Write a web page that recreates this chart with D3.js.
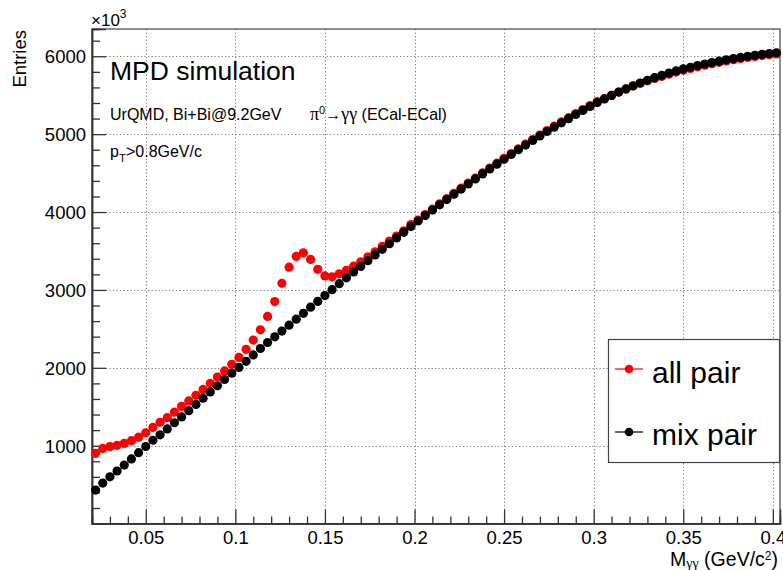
<!DOCTYPE html>
<html><head><meta charset="utf-8">
<script src="https://cdn.jsdelivr.net/npm/d3@7"></script>
<style>
body{margin:0;background:#fff}
svg{display:block}
text{font-family:"Liberation Sans",Arial,Helvetica,sans-serif;fill:#000}
</style>
</head><body>
<svg id="c" width="783" height="570"></svg>
<script>
// ---- data ----
const binLow = 0.02, binWidth = 0.004;
const allPair = [902,965,990,1005,1030,1065,1110,1165,1235,1300,1360,1430,1505,1575,1648,1722,1800,1882,1960,2045,2134,2238,2356,
  2488,2660,2850,3085,3292,3430,3476,3392,3265,3180,3168,3208,3252,3305,3362,3425,3490,3560,3628,3692,3760,3840,3897,
  3967,4037,4105,4172,4240,4307,4372,4437,4502,4565,4627,4689,4751,4812,4872,4931,4989,5046,5102,5157,5211,5264,5316,5367,5417,
  5455,5498,5540,5580,5618,5652,5685,5716,
  5741,5770,5797,5822,5844,5865,5885,5904,5922,5939,5955,5970,5984,5997,6009,6020,6030];
const mixPair = [430,520,600,675,752,830,910,990,1070,1140,1215,1295,1370,1450,1530,1610,1690,1770,1850,1930,
  2005,2083,2165,2248,2325,2398,2472,2548,2625,2700,2778,2852,2928,3003,3080,3155,3230,3302,3376,3450,
  3521,3593,3668,3740,3813,3885,3955,4025,4093,4160,4228,4295,4360,4425,4490,4553,4615,4677,4739,4800,
  4860,4919,4977,5034,5090,5145,5199,5252,5304,5355,5405,5452,5497,5540,5581,5620,5657,5692,5725,5756,
  5785,5812,5837,5859,5880,5900,5919,5937,5954,5970,5985,5999,6012,6024,6035,6045];
const xTicks = [0.05,0.1,0.15,0.2,0.25,0.3,0.35,0.4];
const xTickLabels = ["0.05","0.1","0.15","0.2","0.25","0.3","0.35","0.4"];
const yTicks = [1000,2000,3000,4000,5000,6000];
const yTickLabels = ["1000","2000","3000","4000","5000","6000"];
const seriesNames = ["all pair","mix pair"];
const seriesColors = ["#ff0000","#000000"];

// ---- layout ----
const svg = d3.select("#c");
const L = 92, R = 780, T = 29, B = 523.6;
const x = d3.scaleLinear().domain([0.02, 0.404]).range([L, R]);
const y = d3.scaleLinear().domain([0, 6350]).range([B, T]);
const centers = mixPair.map((_, i) => binLow + binWidth * (i + 0.5));

// grid
const grid = svg.append("g").attr("stroke", "#777").attr("stroke-width", 1).attr("stroke-dasharray", "1.2,2.3");
grid.selectAll("line.gx").data(xTicks).join("line")
  .attr("x1", d => Math.round(x(d)) + 0.5).attr("x2", d => Math.round(x(d)) + 0.5).attr("y1", T).attr("y2", B);
grid.selectAll("line.gy").data(yTicks).join("line")
  .attr("y1", d => Math.round(y(d)) + 0.5).attr("y2", d => Math.round(y(d)) + 0.5).attr("x1", L).attr("x2", R);

// frame
svg.append("rect").attr("x", L).attr("y", T).attr("width", R - L).attr("height", B - T)
  .attr("fill", "none").attr("stroke", "#444").attr("stroke-width", 1.2);

// axes with inward ticks
const xMinor = d3.range(0.03, 0.4005, 0.01).filter(v => !xTicks.some(t => Math.abs(t - v) < 1e-6));
const yMinor = d3.range(200, 6300, 200).filter(v => v % 1000 !== 0);
const gx = svg.append("g").attr("transform", `translate(0,${B})`)
  .call(d3.axisBottom(x).tickValues(xTicks).tickFormat((d, i) => xTickLabels[i]).tickSize(-14));
const gxm = svg.append("g").attr("transform", `translate(0,${B})`)
  .call(d3.axisBottom(x).tickValues(xMinor).tickFormat("").tickSize(-7));
const gy = svg.append("g").attr("transform", `translate(${L},0)`)
  .call(d3.axisLeft(y).tickValues(yTicks).tickFormat((d, i) => yTickLabels[i]).tickSize(-14));
const gym = svg.append("g").attr("transform", `translate(${L},0)`)
  .call(d3.axisLeft(y).tickValues(yMinor).tickFormat("").tickSize(-8));
[gx, gxm, gy, gym].forEach(g => {
  g.select(".domain").attr("stroke", "#333").attr("stroke-width", 1.5);
  g.selectAll(".tick line").attr("stroke", "#333").attr("stroke-width", 1.3);
  g.selectAll(".tick text").attr("font-size", 18.5).attr("fill", "#000")
    .attr("font-family", '"Liberation Sans",Arial,sans-serif');
});
gx.selectAll(".tick text").attr("y", 7).attr("dy", "0.71em");
gy.selectAll(".tick text").attr("x", -6).attr("dy", "0.36em");

// series
const series = [allPair, mixPair];
series.forEach((vals, s) => {
  svg.append("g").selectAll("circle").data(vals).join("circle")
    .attr("cx", (d, i) => x(centers[i])).attr("cy", d => y(d)).attr("r", 4.6)
    .attr("fill", seriesColors[s]);
});

// axis titles
svg.append("text").attr("transform", "translate(26,30) rotate(-90)").attr("text-anchor", "end")
  .attr("font-size", 18.5).text("Entries");
const ex = svg.append("text").attr("x", 91).attr("y", 26).attr("font-size", 17);
ex.append("tspan").text("\u00d710");
ex.append("tspan").attr("font-size", 12).attr("dy", -8).text("3");

const xt = svg.append("text").attr("x", 778).attr("y", 566).attr("text-anchor", "end").attr("font-size", 19.5);
xt.append("tspan").text("M");
xt.append("tspan").attr("font-size", 14).attr("dy", 2).attr("font-family", '"Liberation Serif",serif').text("\u03b3\u03b3");
xt.append("tspan").attr("dy", -2).text(" (GeV/c");
xt.append("tspan").attr("font-size", 12).attr("dy", -6).text("2");
xt.append("tspan").attr("dy", 6).text(")");

// labels
svg.append("text").attr("x", 110).attr("y", 80).attr("font-size", 26.5).text("MPD simulation");
const l2 = svg.append("text").attr("x", 110).attr("y", 120).attr("font-size", 16);
l2.append("tspan").text("UrQMD, Bi+Bi@9.2GeV");
const l2b = svg.append("text").attr("x", 310).attr("y", 120).attr("font-size", 16);
l2b.append("tspan").attr("font-family", '"Liberation Serif",serif').attr("font-size", 18).text("\u03c0");
l2b.append("tspan").attr("font-size", 11).attr("dy", -6).text("0");
l2b.append("tspan").attr("dy", 6).text("\u2192");
l2b.append("tspan").attr("font-family", '"Liberation Serif",serif').attr("font-size", 18).text("\u03b3\u03b3");
l2b.append("tspan").text(" (ECal-ECal)");
const l3 = svg.append("text").attr("x", 110).attr("y", 157).attr("font-size", 16);
l3.append("tspan").text("p");
l3.append("tspan").attr("font-size", 11.5).attr("dy", 5).text("T");
l3.append("tspan").attr("dy", -5).text(">0.8GeV/c");

// legend
const lg = svg.append("g");
lg.append("rect").attr("x", 608.5).attr("y", 339.5).attr("width", 171).attr("height", 123)
  .attr("fill", "#fff").attr("stroke", "#444").attr("stroke-width", 1.2);
const ly = [369, 432], lt = [383, 445];
seriesNames.forEach((n, i) => {
  lg.append("line").attr("x1", 615).attr("x2", 643).attr("y1", ly[i]).attr("y2", ly[i])
    .attr("stroke", seriesColors[i]).attr("stroke-width", 1.2);
  lg.append("circle").attr("cx", 629).attr("cy", ly[i]).attr("r", 4.3).attr("fill", seriesColors[i]);
  lg.append("text").attr("x", 652).attr("y", lt[i]).attr("font-size", 30).text(n);
});
</script>
</body></html>
